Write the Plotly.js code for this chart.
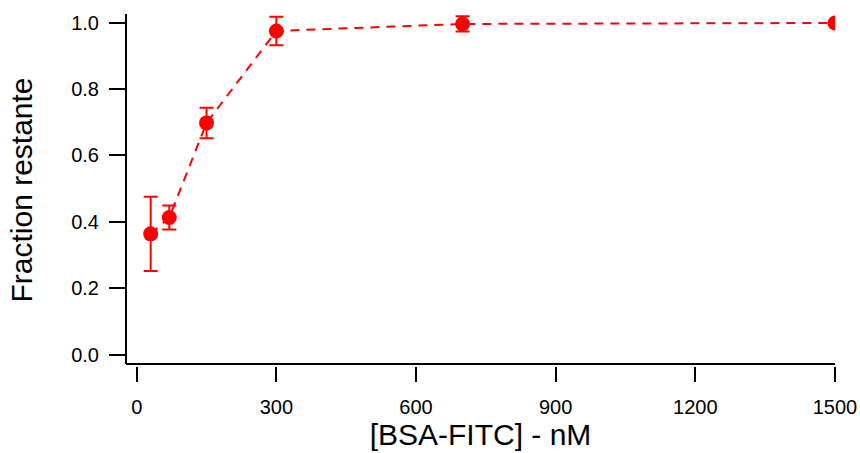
<!DOCTYPE html>
<html>
<head>
<meta charset="utf-8">
<script src="https://cdn.plot.ly/plotly-3.0.1.min.js"></script>
<style>html,body{margin:0;padding:0;background:#fff;}#chart{width:860px;height:453px;}</style>
</head>
<body>
<div id="chart"></div>
<script>
var concentrations = [30, 70, 150, 300, 700, 1500];
var fractionRemaining = [0.364, 0.413, 0.698, 0.975, 0.996, 0.999];
var errorValues = [0.112, 0.036, 0.046, 0.043, 0.023, 0.0];
var xTickValues = [0, 300, 600, 900, 1200, 1500];
var yTickValues = [0.0, 0.2, 0.4, 0.6, 0.8, 1.0];

var red = '#ff0000';
var trace = {
  x: concentrations,
  y: fractionRemaining,
  type: 'scatter',
  mode: 'lines+markers',
  line: {color: red, width: 2, dash: '9px,7px'},
  marker: {color: red, size: 15, symbol: 'circle'},
  error_y: {type: 'data', array: errorValues, visible: true, color: red, thickness: 2, width: 7},
  showlegend: false,
  hoverinfo: 'x+y'
};

var fam = '"Liberation Sans", Arial, sans-serif';
var layout = {
  width: 860, height: 453,
  margin: {l: 126, r: 25, t: 14, b: 87},
  paper_bgcolor: '#fff', plot_bgcolor: '#fff',
  font: {family: fam, color: '#000', size: 20},
  xaxis: {
    range: [-23, 1500],
    tickvals: xTickValues,
    ticktext: xTickValues.map(String),
    ticks: 'outside', ticklen: 15, tickwidth: 2, tickcolor: '#000',
    showline: false, showgrid: false, zeroline: false,
    tickfont: {family: fam, size: 20, color: '#000'},
    ticklabelstandoff: 8,
    title: {text: '[BSA-FITC] - nM', font: {family: fam, size: 30, color: '#000'}, standoff: 6},
    automargin: false
  },
  yaxis: {
    range: [-0.034, 1.026],
    tickvals: yTickValues,
    tickformat: '.1f',
    ticks: 'outside', ticklen: 16, tickwidth: 2, tickcolor: '#000',
    showline: false, showgrid: false, zeroline: false,
    tickfont: {family: fam, size: 20, color: '#000'},
    ticklabelstandoff: 6,
    title: {text: 'Fraction restante', font: {family: fam, size: 30, color: '#000'}, standoff: 29},
    automargin: false
  },
  shapes: [
    {type: 'line', xref: 'paper', yref: 'y', x0: 0, x1: 1, y0: -0.028, y1: -0.028, line: {color: '#000', width: 2}},
    {type: 'line', xref: 'paper', yref: 'y', x0: 0, x1: 0, y0: -0.028, y1: 1.026, line: {color: '#000', width: 2}}
  ]
};

Plotly.newPlot('chart', [trace], layout, {displayModeBar: false, staticPlot: true});
</script>
</body>
</html>
